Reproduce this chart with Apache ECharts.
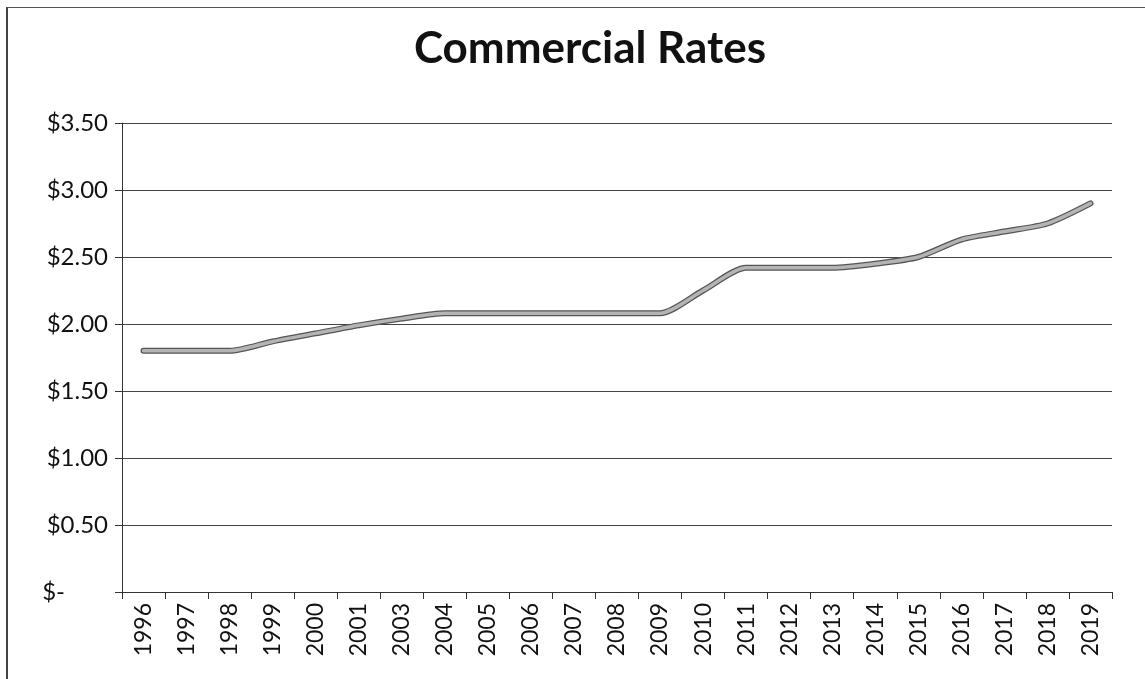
<!DOCTYPE html>
<html>
<head>
<meta charset="utf-8">
<script src="https://cdn.jsdelivr.net/npm/echarts@6/dist/echarts.min.js"></script>
<style>
  html, body { margin: 0; padding: 0; background: #fff; }
  #frame { position: absolute; left: 6px; top: 7px; width: 1145px; height: 679px;
           border-left: 2px solid #444; border-top: 1px solid #555; }
  #chart { position: absolute; left: 0; top: 0; width: 1145px; height: 679px; }
</style>
</head>
<body>
<div id="frame"></div>
<div id="chart"></div>
<script>
// Commercial rate per year ($)
const years = ['1996','1997','1998','1999','2000','2001','2003','2004','2005','2006','2007','2008',
               '2009','2010','2011','2012','2013','2014','2015','2016','2017','2018','2019'];
const rates = [1.80, 1.80, 1.80, 1.87, 1.93, 1.99, 2.04, 2.08, 2.08, 2.08, 2.08, 2.08,
               2.08, 2.25, 2.42, 2.42, 2.42, 2.45, 2.50, 2.63, 2.69, 2.75, 2.90];
const yTicks = { min: 0, max: 3.5, step: 0.5 };

const chart = echarts.init(document.getElementById('chart'));
const font = 'Lato, "Open Sans", sans-serif';

// accounting-style currency labels; zero shows as a dash set in from the right
function money(v) {
  if (v === 0) return '{z|$-}';
  return '$' + v.toFixed(2);
}

chart.setOption({
  animation: false,
  backgroundColor: 'transparent',
  title: {
    text: 'Commercial Rates',
    left: 585, top: 22, textAlign: 'center',
    textStyle: { fontFamily: font, fontSize: 44, fontWeight: 'bold', color: '#111' }
  },
  grid: { left: 122, right: 33, top: 123, bottom: 87 },
  xAxis: {
    type: 'category',
    data: years,
    boundaryGap: true,
    axisLine: { lineStyle: { color: '#333', width: 1 } },
    axisTick: { show: true, length: 7, lineStyle: { color: '#333' } },
    axisLabel: { rotate: 90, fontFamily: font, fontSize: 23, color: '#111', margin: 11 }
  },
  yAxis: {
    type: 'value',
    min: yTicks.min, max: yTicks.max, interval: yTicks.step,
    axisLine: { show: true, lineStyle: { color: '#333', width: 1 } },
    axisTick: { show: true, length: 7, inside: false, lineStyle: { color: '#333' } },
    splitLine: { lineStyle: { color: '#444', width: 1 } },
    axisLabel: {
      formatter: money, fontFamily: font, fontSize: 24, color: '#111', margin: 14,
      rich: { z: { fontFamily: font, fontSize: 24, color: '#111', padding: [0, 43, 0, 0] } }
    }
  },
  series: [
    {
      type: 'line', data: rates, smooth: 0.25, symbol: 'none',
      lineStyle: { color: '#555', width: 6, cap: 'round', join: 'round' }, z: 2
    },
    {
      type: 'line', data: rates, smooth: 0.25, symbol: 'none',
      lineStyle: { color: '#b4b4b4', width: 3.5, cap: 'round', join: 'round' }, z: 3
    }
  ]
});
</script>
</body>
</html>
